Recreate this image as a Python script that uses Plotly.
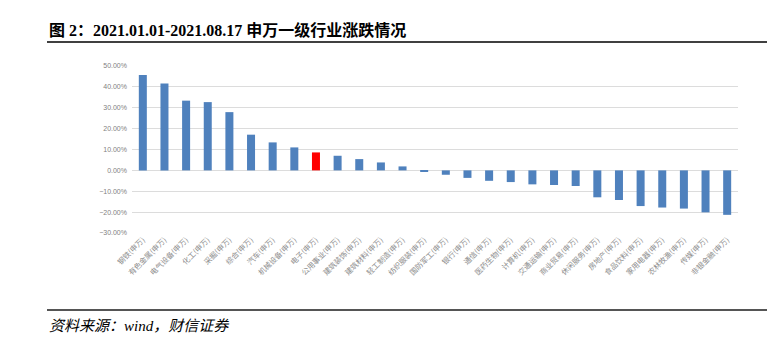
import plotly.graph_objects as go

# 申万一级行业 2021.01.01-2021.08.17 涨跌幅
industries = [
    "钢铁", "有色金属", "电气设备", "化工", "采掘", "综合", "汽车", "机械设备",
    "电子", "公用事业", "建筑装饰", "建筑材料", "轻工制造", "纺织服装", "国防军工",
    "银行", "通信", "医药生物", "计算机", "交通运输", "商业贸易", "休闲服务",
    "房地产", "食品饮料", "家用电器", "农林牧渔", "传媒", "非银金融",
]
returns_pct = [
    45.7, 41.6, 33.4, 32.7, 27.9, 17.1, 13.4, 11.0,
    8.6, 7.0, 5.4, 3.8, 1.9, -0.5, -2.1,
    -3.6, -5.0, -5.6, -6.7, -7.0, -7.5, -12.9,
    -14.2, -17.1, -17.8, -18.3, -20.1, -21.3,
]
highlight = "电子"
y_ticks = [50, 40, 30, 20, 10, 0, -10, -20, -30]

labels = [f"{name}(申万)" for name in industries]
values = [v / 100 for v in returns_pct]
colors = ["#FF0000" if name == highlight else "#4F81BD" for name in industries]

W, H = 767, 343
L, R, T, B = 132, 29, 66, 110
plot_w = W - L - R
plot_h = H - T - B


def px(x):
    return (x - L) / plot_w


def py(y):
    return (H - B - y) / plot_h


fig = go.Figure(
    go.Bar(
        x=labels,
        y=values,
        marker=dict(color=colors, line=dict(width=0)),
        hoverinfo="x+y",
    )
)

fig.update_layout(
    width=W,
    height=H,
    margin=dict(l=L, r=R, t=T, b=B, autoexpand=False),
    paper_bgcolor="white",
    plot_bgcolor="white",
    bargap=0.63,
    showlegend=False,
    font=dict(family="Noto Sans CJK SC, sans-serif"),
    xaxis=dict(
        tickangle=-45,
        tickfont=dict(size=7.5, color="#8C8C8C", family="Noto Sans CJK SC"),
        showgrid=False,
        showline=False,
        ticks="",
        automargin=False,
    ),
    yaxis=dict(
        range=[-0.3, 0.5],
        tickvals=[v / 100 for v in y_ticks],
        tickformat=".2%",
        tickfont=dict(size=7, color="#7F7F7F", family="Liberation Sans Narrow, Liberation Sans"),
        showgrid=True,
        gridcolor="#DCDCDC",
        gridwidth=1,
        zeroline=True,
        zerolinecolor="#DCDCDC",
        zerolinewidth=1,
        showline=False,
        ticks="",
        ticklabelstandoff=4,
        automargin=False,
    ),
    shapes=[
        dict(type="line", xref="paper", yref="paper",
             x0=px(47), x1=px(767), y0=py(42), y1=py(42),
             line=dict(color="#000000", width=1.5)),
        dict(type="line", xref="paper", yref="paper",
             x0=px(47), x1=px(767), y0=py(310), y1=py(310),
             line=dict(color="#555555", width=2)),
    ],
    annotations=[
        dict(
            text="<b>图 2：2021.01.01-2021.08.17 申万一级行业涨跌情况</b>",
            xref="paper", yref="paper", x=px(47), y=py(30),
            xanchor="left", yanchor="middle", showarrow=False,
            font=dict(size=16, color="#000000",
                      family="Liberation Serif, Noto Sans CJK SC"),
        ),
        dict(
            text="<i>资料来源：wind，财信证券</i>",
            xref="paper", yref="paper", x=px(47), y=py(326),
            xanchor="left", yanchor="middle", showarrow=False,
            font=dict(size=15, color="#000000",
                      family="Liberation Serif, Noto Sans CJK SC"),
        ),
    ],
)

fig.write_html("out.html")
